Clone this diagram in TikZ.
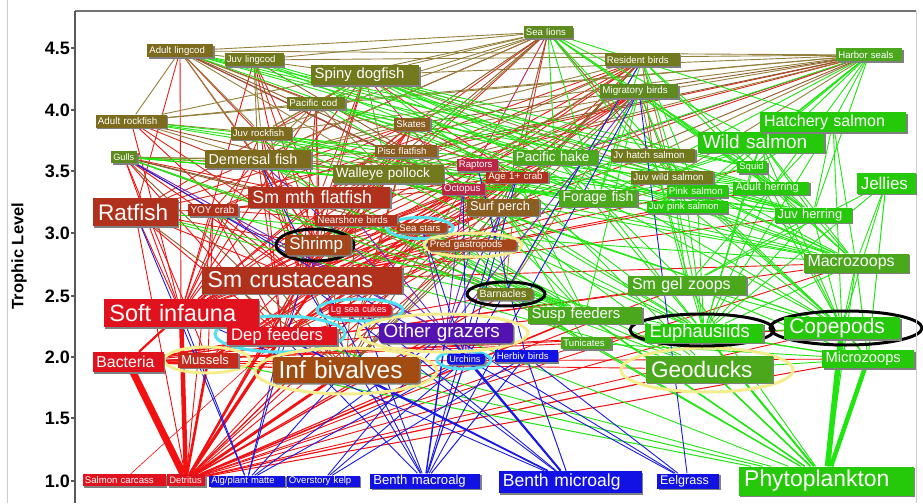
\documentclass[tikz,border=0pt]{standalone}
\usepackage{fontspec}
\setmainfont{Liberation Sans}
\usetikzlibrary{shapes.geometric,shadows}
\pgfdeclarelayer{paper}
\pgfdeclarelayer{edges}
\pgfdeclarelayer{rings}
\pgfsetlayers{paper,edges,rings,main}
% node fills
\definecolor{cKh}{HTML}{7E6C1E}
\definecolor{cOl}{HTML}{737A1E}
\definecolor{cOG}{HTML}{5F8A20}
\definecolor{cBr}{HTML}{8B5E22}
\definecolor{cRu}{HTML}{A4461A}
\definecolor{cRB}{HTML}{B0321C}
\definecolor{cRd}{HTML}{E0121E}
\definecolor{cMu}{HTML}{C62A1C}
\definecolor{cIb}{HTML}{A34C12}
\definecolor{cCr}{HTML}{BC2646}
\definecolor{cPu}{HTML}{5412B0}
\definecolor{cBl}{HTML}{1212E4}
\definecolor{cGd}{HTML}{4BA81C}
\definecolor{cGb}{HTML}{26C80A}
% edges
\definecolor{edR}{HTML}{F21010}
\definecolor{edRB}{HTML}{D8281A}
\definecolor{edO}{HTML}{94803A}
\definecolor{edBr}{HTML}{8E5A2A}
\definecolor{edG}{HTML}{1EE60E}
\definecolor{edB}{HTML}{1A1AE6}
\definecolor{edP}{HTML}{6A28C8}
\definecolor{edCr}{HTML}{C82050}
% rings
\definecolor{rgC}{HTML}{50E0F0}
\definecolor{rgY}{HTML}{F5EC8C}
\tikzset{
  fs/.style={font=\fontsize{#1}{#1}\selectfont},
  fwbox/.style={rectangle, inner ysep=0pt, text=white, align=left,
    drop shadow={shadow xshift=1.6pt, shadow yshift=-1.6pt, fill=black!50, opacity=1}},
  rnd/.style={rounded corners=3pt},
  kh/.style={fwbox, fill=cKh}, ol/.style={fwbox, fill=cOl}, og/.style={fwbox, fill=cOG},
  br/.style={fwbox, fill=cBr}, ru/.style={fwbox, fill=cRu}, rb/.style={fwbox, fill=cRB},
  rd/.style={fwbox, fill=cRd}, mus/.style={fwbox, fill=cMu}, ibv/.style={fwbox, fill=cIb},
  cr/.style={fwbox, fill=cCr}, pu/.style={fwbox, fill=cPu}, bl/.style={fwbox, fill=cBl},
  gd/.style={fwbox, fill=cGd}, gb/.style={fwbox, fill=cGb},
  ring/.style={ellipse, draw, line width=3pt, inner sep=0pt},
  ringC/.style={ring, draw=rgC}, ringY/.style={ring, draw=rgY}, ringK/.style={ring, draw=black},
  edge/.style={line width=0.9pt},
  eR/.style={edge, draw=edR}, eRB/.style={edge, draw=edRB}, eO/.style={edge, draw=edO},
  eBr/.style={edge, draw=edBr}, eG/.style={edge, draw=edG}, eB/.style={edge, draw=edB},
  eP/.style={edge, draw=edP}, eCr/.style={edge, draw=edCr},
  axisline/.style={draw=black!65, line width=1.6pt},
  frameline/.style={draw=black!55, line width=1.2pt},
  outerline/.style={draw=black!20, line width=1pt},
  ticklab/.style={font=\bfseries\fontsize{18}{18}\selectfont, anchor=east, inner sep=0pt},
}
\newcommand\fwn[8]{%
  \pgfmathsetmacro\fwpad{0.25*#7}%
  \pgfmathsetmacro\fwtw{#4-0.5*#7}%
  \node[#6,fs=#7,inner xsep=\fwpad pt,text width=\fwtw pt,minimum height=#5pt] (#1) at (#2,#3) {#8};}
\newcommand\eats[3]{\foreach \p in {#3}{\draw[#1] (\p) -- (#2);}}
\newcommand\eatw[3]{\foreach \p/\w in {#3}{\draw[#1,line width=\w pt] (\p) -- (#2);}}
\begin{document}
\begin{tikzpicture}[x=1pt,y=-1pt]
\useasboundingbox (0,0) rectangle (923,503);
\begin{pgfonlayer}{paper}
\fill[white] (0,0) rectangle (923,503);
\end{pgfonlayer}
% frame and axis
\draw[outerline] (7,0) -- (7,503);
\draw[outerline] (916,11) -- (916,503);
\draw[frameline] (75,11) -- (916,11);
\draw[axisline] (75,11) -- (75,503);
\foreach \v/\y [count=\i] in {4.5/48,4.0/110,3.5/171,3.0/233,2.5/296,2.0/357,1.5/418,1.0/481}{
  \draw[axisline, line width=1.2pt] (71,\y) -- (75,\y);
  \node[ticklab] (tick\i) at (70,\y) {\v};
}
\node[rotate=90, font=\bfseries\fontsize{16.5}{16.5}\selectfont] (ylab) at (19,256) {Trophic Level};
% nodes
\fwn{alc}{180}{51}{66}{13}{kh}{9.6}{Adult lingcod}
\fwn{jlc}{254}{60}{59}{13}{ol}{9.6}{Juv lingcod}
\fwn{sl}{548}{32}{49}{12}{og}{9.6}{Sea lions}
\fwn{sd}{365}{75}{108}{20}{ol}{14.8}{Spiny dogfish}
\fwn{rb}{642}{60}{75}{13}{ol}{9.6}{Resident birds}
\fwn{hs}{869}{55}{66}{13}{gd}{9.6}{Harbor seals}
\fwn{mb}{639}{91}{78}{14}{og}{9.8}{Migratory birds}
\fwn{pc}{316}{103}{58}{12}{ol}{9.8}{Pacific cod}
\fwn{ar}{131}{121}{71}{13}{kh}{9.8}{Adult rockfish}
\fwn{jr}{261}{133}{61}{13}{kh}{9.6}{Juv rockfish}
\fwn{sk}{412}{124}{36}{13}{br}{9.6}{Skates}
\fwn{pf}{406}{151}{62}{12}{br}{9.6}{Pisc flatfish}
\fwn{gu}{124}{157}{26}{12}{og}{9.2}{Gulls}
\fwn{df}{258}{159}{106}{18}{kh}{14.4}{Demersal fish}
\fwn{ph}{555}{157}{85}{15}{gd}{13.5}{Pacific hake}
\fwn{jhs}{653}{155}{84}{13}{ol}{9.7}{Jv hatch salmon}
\fwn{ra}{477}{165}{41}{12}{cr}{9.6}{Raptors}
\fwn{wp}{388}{174}{111}{18}{ol}{13.5}{Walleye pollock}
\fwn{ac}{517}{177}{62}{11}{rb}{9.8}{Age 1+ crab}
\fwn{oc}{463}{189}{43}{11}{cr}{9.8}{Octopus}
\fwn{jws}{672}{177}{82}{13}{ol}{9.8}{Juv wild salmon}
\fwn{sq}{752}{167}{30}{12}{gb}{9.5}{Squid}
\fwn{ws}{761}{142}{126}{21}{gb}{19}{Wild salmon}
\fwn{hsal}{833}{122}{146}{20}{gb}{16}{Hatchery salmon}
\fwn{ps}{697}{191}{61}{12}{gb}{9.8}{Pink salmon}
\fwn{ah}{771}{188}{76}{13}{gb}{11}{Adult herring}
\fwn{ff}{598}{198}{78}{17}{gd}{14}{Forage fish}
\fwn{sp}{503}{207}{72}{17}{br}{12.8}{Surf perch}
\fwn{jps}{687}{207}{81}{12}{gb}{9.6}{Juv pink salmon}
\fwn{je}{886}{183}{59}{21}{gb}{17}{Jellies}
\fwn{jh}{813}{215}{77}{15}{gb}{12.9}{Juv herring}
\fwn{rf}{135}{212}{85}{28}{rb}{22.5}{Ratfish}
\fwn{yc}{213}{210}{50}{12}{rb}{10}{YOY crab}
\fwn{smf}{319}{197}{142}{21}{rb}{17.8}{Sm mth flatfish}
\fwn{nb}{356}{220}{82}{11}{rb}{9.8}{Nearshore birds}
\fwn{ss}{422}{228}{50}{10}{ru,rnd}{9.6}{Sea stars}
\fwn{sh}{318}{245}{66}{20}{ru,rnd}{17}{Shrimp}
\fwn{pg}{472}{245}{89}{11}{ru,rnd}{9.8}{Pred gastropods}
\fwn{sc}{302}{280}{200}{27}{rb}{22.9}{Sm crustaceans}
\fwn{ba}{505}{294}{56}{12}{ol,rnd}{10.5}{Barnacles}
\fwn{sgz}{687}{285}{118}{19}{gd}{16}{Sm gel zoops}
\fwn{mz}{856}{263}{105}{19}{gd}{16}{Macrozoops}
\fwn{si}{181}{313}{155}{28}{rd}{23.5}{Soft infauna}
\fwn{sf}{585}{315}{114}{17}{gd}{14.9}{Susp feeders}
\fwn{lsc}{360}{310}{63}{12}{rd,rnd}{9.3}{Lg sea cukes}
\fwn{dep}{282}{336}{110}{18}{rd}{16.7}{Dep feeders}
\fwn{og}{446}{333}{134}{20}{pu,rnd}{18.8}{Other grazers}
\fwn{eu}{704}{333}{118}{19}{gb}{18.4}{Euphausiids}
\fwn{co}{842}{328}{116}{22}{gb}{21}{Copepods}
\fwn{tu}{586}{343}{50}{12}{gd}{9.6}{Tunicates}
\fwn{bac}{128}{362}{71}{20}{rd}{15.8}{Bacteria}
\fwn{mu}{208}{360}{60}{15}{mus}{13}{Mussels}
\fwn{ib}{346}{370}{147}{26}{ibv,rnd}{24.5}{Inf bivalves}
\fwn{ur}{466}{359}{38}{11}{bl,rnd}{9.2}{Urchins}
\fwn{hb}{526}{356}{63}{12}{bl}{9.6}{Herbiv birds}
\fwn{mic}{868}{359}{92}{18}{gb}{14.7}{Microzoops}
\fwn{ge}{709}{369}{127}{27}{gd}{22.5}{Geoducks}
\fwn{sca}{124}{480}{83}{12}{rd}{9.6}{Salmon carcass}
\fwn{det}{186}{480}{38}{12}{rd}{9.4}{Detritus}
\fwn{apm}{247}{481}{76}{11}{bl}{9.4}{Alg/plant matte}
\fwn{ok}{323}{481}{73}{11}{bl}{9.6}{Overstory kelp}
\fwn{bma}{425}{481}{110}{15}{bl}{13.1}{Benth macroalg}
\fwn{bmi}{570}{482}{143}{22}{bl}{17.5}{Benth microalg}
\fwn{eel}{688}{481}{62}{15}{bl}{12.5}{Eelgrass}
\fwn{phy}{826}{481}{175}{29}{gb}{22.9}{Phytoplankton}
% rings
\begin{pgfonlayer}{rings}
\node[ringC, minimum width=66pt, minimum height=21pt] (rss) at (420,228) {};
\node[ringC, minimum width=86pt, minimum height=22pt] (rlsc) at (360,310) {};
\node[ringC, minimum width=130pt, minimum height=36pt] (rdep) at (280,334) {};
\node[ringC, minimum width=54pt, minimum height=18pt] (rur) at (464,360) {};
\node[ringY, minimum width=98pt, minimum height=24pt] (rpg) at (473,245) {};
\node[ringY, minimum width=170pt, minimum height=38pt] (rog) at (443,333) {};
\node[ringY, minimum width=86pt, minimum height=26pt] (rmu) at (207,360) {};
\node[ringY, minimum width=182pt, minimum height=46pt] (rib) at (346,371) {};
\node[ringY, minimum width=172pt, minimum height=44pt] (rge) at (707,370) {};
\node[ringK, minimum width=78pt, minimum height=32pt] (rsh) at (315,245) {};
\node[ringK, minimum width=78pt, minimum height=24pt] (rba) at (506,294) {};
\node[ringK, minimum width=144pt, minimum height=32pt] (reu) at (702,330) {};
\node[ringK, minimum width=152pt, minimum height=34pt] (rco) at (846,328) {};
\end{pgfonlayer}
% connectors (predator -- prey)
\begin{pgfonlayer}{edges}
\eatw{eR}{det}{bac/7,si/4.5,dep/3.2,mu/2.6,ib/2.8,sc/2,sf/1.6,lsc/1.3,og/1.3,ur/1.1,ba/1.1,ge/1.2,sh/1.1,mic/1,tu/0.9,co/0.9,eu/0.9,mz/0.9,sgz/0.9,pg/0.9,ss/0.9,ac/0.9,yc/0.9,rf/0.9}
\eats{eR,line width=0.6pt}{sca}{dep}
\eatw{eR}{bac}{si/2.2,dep/1.6,ib/1.2,sf/1,mu/1.2,mic/0.9,co/0.9,mz/0.9,eu/0.9,sgz/0.9,tu/0.9,ba/0.9,ge/0.9}
\eats{eR}{si}{smf,df,rf,sk,pf,yc,ac,sh,gu,nb,mb,jr,sp,oc,ss,sd,ar,pc,jlc,alc,wp,rb}
\eats{eR}{dep}{smf,df,rf,sk,pf,ac,yc,sh,ss,pg,sp,oc,gu,nb,mb,jr,wp,ph}
\eats{eR}{lsc}{ss,sk,pg}
\eats{eR}{mu}{ss,pg,gu,mb,rb,nb,ac,oc,yc}
\eats{eR}{sc}{sh,smf,df,rf,jr,yc,ac,ff,jh,ah,sp,pf,sk,wp,gu,nb,jlc,ph,pc,jps,ps,jws,jhs,sq,oc,ar,mz,rb,mb,sd}
\eats{eRB}{sh}{smf,df,rf,sk,pf,sd,pc,jr,ar,alc,jlc,oc,ac,wp,ph,sp,sl}
\eats{eRB}{rf}{sd,sl,hs,alc,sk}
\eats{eRB}{smf}{alc,jlc,sd,pc,sk,pf,sl,hs,rb,mb,ar,gu}
\eats{eRB}{nb}{ra}
\eats{eRB}{yc}{ac,oc,df,smf,rf,sk,gu,rb,nb}
\eats{eRB}{ac}{oc,sl,hs,alc,sd,sk,ra,rb,gu}
\eats{eCr}{oc}{sl,hs,alc,sd}
\eats{eO}{alc}{sl,hs}
\eats{eO}{jlc}{alc,sl,hs,sd}
\eats{eO}{sd}{sl,hs}
\eats{eO}{pc}{sl,hs,alc,sd}
\eats{eO}{ar}{sl,hs,alc,pc}
\eats{eO}{jr}{alc,jlc,ar,pc,sd,sl,hs}
\eats{eO}{df}{alc,jlc,sd,pc,ar,sl,hs,rb,gu,sk,pf}
\eats{eO}{wp}{sl,hs,alc,sd,pc,rb,mb,ph}
\eats{eO}{jhs}{hs,sl,mb,rb,sd}
\eats{eO}{jws}{hs,sl,rb,mb,sd}
\eats{eBr}{sk}{sl,hs}
\eats{eBr}{pf}{sl,hs,alc}
\eats{eBr}{sp}{hs,sl,alc,jlc,rb,mb,ar}
\eats{eO}{gu}{ra}
\eats{eO}{mb}{ra}
\eats{eO}{rb}{ra}
\eats{eO}{ba}{ss,pg,mb,gu,sp,nb,rb,ac}
\eats{eBr}{pg}{ss,ac,oc,rb,gu}
\eats{eBr}{ib}{ss,pg,ac,yc,oc,rf,smf,df,nb,gu,mb,rb,sk}
\eats{eBr}{ss}{gu,ac}
\eatw{eG}{phy}{co/5.5,mic/4.5,eu/2,sf/1.6,ge/1.6,mu/1,ib/1,ba/1,tu/1,mz/1,sgz/0.9,og/0.9,dep/0.9}
\eatw{eG}{mic}{co/1.6,eu/1,sgz/1,mz/1,je/1,tu/0.9,sf/0.9,ge/0.9}
\eats{eG}{co}{eu,mz,sgz,je,jh,ah,ff,jps,ps,jws,jhs,ph,sq,hsal,wp,jr,ws}
\eats{eG}{eu}{ph,ff,ah,jh,sq,ws,hsal,ps,jps,jws,jhs,wp,sd,sp,sh,jr,pc,mz,je}
\eats{eG}{mz}{je,jh,ah,ff,ws,hsal,sq,jps,ps,jws,jhs,ph,wp,sd,rf,df,jr}
\eats{eG}{sgz}{je,ff,ah,jh,jhs,jws}
\eats{eG}{sf}{ss,pg,df,smf,rf,ac,yc,gu,mb,sp,oc,nb}
\eats{eG}{ge}{ss,ac,oc,rf,gu,nb}
\eats{eG}{tu}{ss,sp,df}
\eats{eG}{ff}{hs,sl,sd,alc,jlc,pc,ar,jr,ph,ws,hsal,rb,mb,gu,sk,pf,df,wp,sq}
\eats{eG}{ph}{hs,sl,sd,alc,pc}
\eats{eG}{ws}{hs,sl}
\eats{eG}{hsal}{hs,sl}
\eats{eG}{ps}{hs,sl,rb}
\eats{eG}{jps}{sd,rb,mb,jlc,pc,hs,sl,gu}
\eats{eG}{ah}{hs,sl,sd,pc,ph,alc,ar,rb,mb,ws,hsal,gu}
\eats{eG}{jh}{ws,hsal,ph,sd,hs,rb,mb,sq,ar,jlc,pc,sl,alc,gu,jr}
\eats{eG}{sq}{hs,sl,sd,ws,hsal,alc}
\eats{eP}{og}{ss,pg,ac,oc,sp,gu,nb,df,mb,yc}
\eats{eB}{apm}{si,dep,og,ur,sc,ib,rf}
\eats{eB}{ok}{og,ur,hb}
\eatw{eB}{bma}{og/1.5,ur/1.2,hb/1,dep/0.9,sc/0.9,sp/0.9,mb/0.9,lsc/0.9,df/0.9}
\eatw{eB}{bmi}{og/2,ur/1.2,hb/1,dep/1.5,ib/1.2,sc/0.9,lsc/0.9,si/0.9}
\eats{eB}{eel}{mb,hb,og,ur}
\eats{eB}{ur}{ss,ac,oc,gu,rb}
\eats{eB}{hb}{ra}
\end{pgfonlayer}
\end{tikzpicture}
\end{document}
